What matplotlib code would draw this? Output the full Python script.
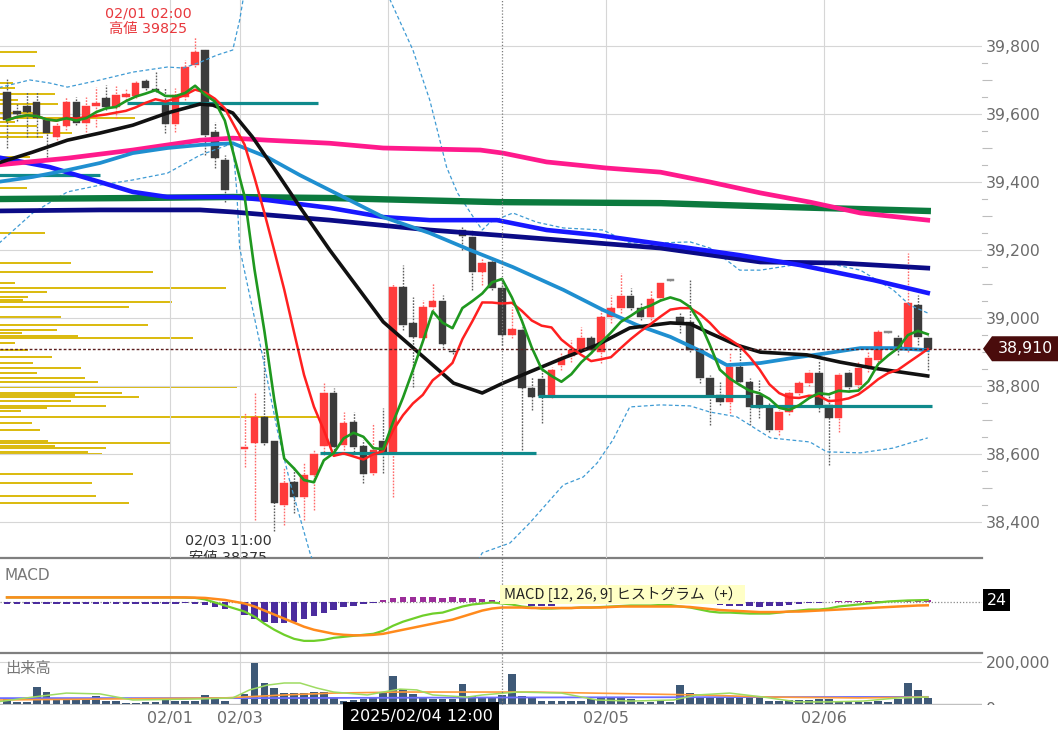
import numpy as np
import pandas as pd
import matplotlib
matplotlib.use("Agg")
import matplotlib.pyplot as plt
from matplotlib.patches import Polygon, Rectangle
from matplotlib.lines import Line2D
from matplotlib.transforms import Bbox, TransformedBbox, blended_transform_factory
from matplotlib.ticker import FixedLocator

plt.rcParams['font.family'] = ['DejaVu Sans', 'Noto Sans CJK JP']

nan = np.nan

# ---------------- hourly candles (index 23 = no trading) ----------------
opens = [39664, 39610, 39623, 39635, 39582, 39532, 39564, 39635, 39573, 39623,
         39647, 39620, 39650, 39653, 39697, 39673, 39635, 39570, 39650, 39744,
         39788, 39547, 39464, nan, 38615, 38633, 38709, 38639, 38451, 38519,
         38475, 38539, 38624, 38780, 38627, 38695, 38624, 38545, 38639, 38607,
         39091, 38986, 38942, 39033, 39050, 38903, 39259, 39238, 39135, 39165,
         39088, 38950, 38965, 38795, 38821, 38771, 38862, 38889, 38906, 38942,
         38900, 39003, 39030, 39065, 39030, 39003, 39059, 39112, 39003, 38989,
         38906, 38824, 38774, 38753, 38856, 38812, 38774, 38736, 38671, 38724,
         38780, 38809, 38839, 38745, 38707, 38839, 38803, 38853, 38877, 38959,
         38942, 38906, 39038, 38942]
highs = [39705, 39630, 39664, 39664, 39588, 39576, 39650, 39650, 39650, 39679,
         39685, 39682, 39676, 39697, 39705, 39723, 39676, 39676, 39758, 39825,
         39790, 39576, 39479, nan, 38724, 38783, 38906, 38639, 38563, 38563,
         38574, 38613, 38809, 38795, 38724, 38724, 38642, 38692, 38736, 39103,
         39156, 39062, 39053, 39103, 39068, 38909, 39271, 39259, 39177, 39177,
         39112, 39033, 38974, 38827, 38856, 38856, 38900, 38936, 38974, 38947,
         39024, 39068, 39132, 39088, 39047, 39083, 39103, 39115, 39015, 39112,
         38912, 38833, 38812, 38897, 38912, 38824, 38818, 38751, 38730, 38789,
         38818, 38848, 38877, 38780, 38839, 38848, 38871, 38900, 38965, 38962,
         38950, 39191, 39068, 38947]
lows = [39500, 39580, 39532, 39532, 39473, 39523, 39553, 39567, 39547, 39561,
        39611, 39588, 39641, 39647, 39670, 39664, 39544, 39547, 39641, 39738,
        39479, 39441, 39341, nan, 38563, 38407, 38627, 38375, 38392, 38428,
        38407, 38436, 38598, 38613, 38613, 38607, 38516, 38539, 38545, 38475,
        38965, 38798, 38936, 39024, 38912, 38895, 39200, 39083, 39097, 39083,
        38921, 38942, 38613, 38730, 38692, 38765, 38848, 38871, 38900, 38897,
        38868, 38986, 39015, 39024, 38994, 38994, 39053, 39109, 38956, 38900,
        38809, 38686, 38745, 38721, 38803, 38686, 38706, 38665, 38657, 38715,
        38774, 38800, 38724, 38568, 38665, 38783, 38795, 38842, 38871, 38956,
        38891, 38900, 38921, 38848]
closes = [39582, 39600, 39606, 39588, 39544, 39564, 39635, 39573, 39623, 39632,
          39620, 39655, 39658, 39691, 39676, 39670, 39570, 39655, 39738, 39782,
          39538, 39470, 39376, nan, 38621, 38709, 38633, 38457, 38516, 38475,
          38539, 38601, 38780, 38621, 38692, 38621, 38542, 38613, 38607, 39091,
          38980, 38945, 39033, 39050, 38924, 38900, 39241, 39135, 39162, 39088,
          38950, 38968, 38795, 38768, 38771, 38848, 38883, 38906, 38942, 38906,
          39003, 39030, 39065, 39030, 39003, 39056, 39103, 39112, 38986, 38906,
          38824, 38774, 38753, 38856, 38812, 38739, 38736, 38671, 38724, 38780,
          38809, 38839, 38745, 38707, 38833, 38797, 38853, 38883, 38959, 38959,
          38906, 39044, 38945, 38910]
volumes = [24000, 10000, 10000, 81000, 57000, 24000, 29000, 24000, 29000, 38000,
           14000, 14000, 5000, 5000, 10000, 10000, 24000, 14000, 14000, 14000,
           43000, 24000, 14000, nan, 48000, 195000, 100000, 76000, 52000, 52000,
           52000, 57000, 57000, 29000, 14000, 19000, 24000, 29000, 52000, 133000,
           71000, 48000, 29000, 24000, 24000, 24000, 95000, 38000, 33000, 33000,
           43000, 143000, 38000, 33000, 14000, 14000, 14000, 14000, 14000, 24000,
           29000, 29000, 29000, 24000, 10000, 10000, 14000, 10000, 90000, 52000,
           33000, 33000, 33000, 33000, 33000, 33000, 29000, 14000, 14000, 19000,
           19000, 19000, 24000, 24000, 14000, 10000, 10000, 10000, 14000, 10000,
           24000, 100000, 67000, 29000]

# ---------------- MACD (12, 26, 9) ----------------
macd_line = [50, 50, 50, 50, 50, 50, 50, 50, 50, 50,
             50, 50, 50, 50, 50, 50, 50, 50, 48, 45,
             30, 0, -30, nan, -90, -140, -210, -270, -320, -360,
             -380, -380, -370, -350, -340, -330, -320, -310, -280, -230,
             -190, -160, -130, -110, -100, -70, -40, -20, -10, 0,
             -10, -20, -40, -50, -60, -60, -55, -55, -50, -50,
             -45, -40, -35, -30, -30, -30, -25, -25, -40, -50,
             -70, -90, -100, -100, -105, -110, -110, -110, -100, -90,
             -80, -70, -70, -60, -40, -30, -20, -10, 0, 10,
             15, 20, 22, 24]
macd_signal = [50, 50, 50, 50, 50, 50, 50, 50, 50, 50,
               50, 50, 50, 50, 50, 50, 50, 50, 50, 48,
               45, 35, 25, nan, -10, -40, -80, -120, -160, -200,
               -240, -270, -290, -310, -320, -325, -325, -320, -310, -290,
               -270, -250, -230, -210, -190, -170, -140, -110, -80, -60,
               -50, -50, -50, -55, -55, -55, -55, -55, -50, -50,
               -50, -45, -40, -40, -40, -40, -40, -40, -40, -45,
               -55, -65, -75, -80, -85, -90, -95, -95, -95, -90,
               -90, -85, -80, -75, -70, -65, -60, -55, -50, -45,
               -40, -35, -30, -28]
macd_hist = [-12, -12, -12, -12, -12, -12, -12, -12, -12, -12,
             -12, -12, -12, -12, -12, -12, -12, -12, -10, -15,
             -25, -40, -60, nan, -120, -160, -190, -200, -200, -190,
             -160, -130, -100, -70, -40, -30, -20, -10, 20, 40,
             50, 50, 50, 50, 40, 50, 40, 40, 30, 20,
             10, -10, -20, -30, -30, -30, -20, -20, -10, -10,
             -5, 5, 5, 10, 10, 10, 10, 10, 5, -5,
             -10, -20, -25, -30, -30, -35, -40, -35, -30, -25,
             -15, -10, -5, 0, 10, 10, 12, 15, 15, 15,
             15, 20, 20, 20]

# ---------------- longer moving averages / bands (read at candle positions) ----
black_x = [-1, 2.6, 6.1, 9.4, 12.7, 16.2, 19.5, 20.8, 22.8, 24.8, 27.3, 29.6, 32.6, 38,
           45.1, 48, 50.1, 52.8, 56.2, 59.6, 62.9, 67, 69, 71, 73.7, 76.1, 80.8, 84.1, 87.5, 93]
black_ma = [39455, 39488, 39523, 39544, 39567, 39603, 39629, 39626, 39603, 39532, 39426,
            39326, 39200, 38989, 38809, 38780, 38809, 38842, 38883, 38921, 38971, 38986,
            38983, 38956, 38921, 38900, 38892, 38871, 38853, 38830]
cyan_x = [-1, 2.6, 6.1, 9.4, 12.7, 16.2, 19.5, 22.8, 26.3, 29.6, 32.6, 38, 42.7, 46.8,
          51.1, 56.2, 60.2, 63.6, 67, 70.3, 72.7, 76.1, 79.4, 82.8, 86.2, 89.5, 93]
cyan_ma = [39400, 39415, 39435, 39456, 39485, 39500, 39509, 39514, 39473, 39420, 39376,
           39297, 39250, 39200, 39150, 39083, 39024, 38980, 38945, 38900, 38862, 38868,
           38883, 38897, 38912, 38912, 38906]
pink_x = [-1, 6.1, 12.7, 19.5, 22.8, 26.3, 32.6, 38, 42.7, 47.8, 50.1, 54.5, 60.6, 66,
          71, 76.1, 81.1, 86.2, 93]
pink_ma = [39450, 39470, 39494, 39523, 39529, 39523, 39514, 39500, 39497, 39494, 39485,
           39459, 39441, 39429, 39400, 39368, 39341, 39309, 39288]
dgreen_x = [-1, 12.7, 22.8, 32.6, 49.5, 66, 79.4, 93]
dgreen_ma = [39350, 39353, 39356, 39353, 39341, 39338, 39326, 39315]
blue_x = [-1, 4.3, 9.4, 12.7, 16.2, 22.8, 26.3, 32.6, 38, 42.7, 49.5, 54.5, 59.6, 66,
          74, 80.1, 87.5, 93]
blue_ma = [39473, 39444, 39400, 39371, 39356, 39356, 39347, 39324, 39297, 39288, 39288,
           39259, 39244, 39218, 39185, 39156, 39112, 39074]
navy_x = [-1, 9.4, 19.5, 22.8, 32.6, 42.7, 49.5, 66, 76.1, 84.1, 93]
navy_ma = [39315, 39318, 39318, 39312, 39288, 39259, 39244, 39206, 39165, 39162, 39147]

bb_upper_x = [-1, 2.3, 4.3, 6.1, 9.4, 12.7, 16.2, 17.8, 19.5, 21.2, 22.8, 23.5, 24.5, 27,
              31, 35, 37.5, 38.7, 41, 42.7, 44.4, 45.5, 47.1, 48, 48.8, 51.1, 53.5, 56.2,
              60.2, 62.9, 66, 69, 71, 72.3, 74, 76.1, 79.4, 82.8, 86.2, 89.5, 91.2, 93]
bb_upper = [39676, 39700, 39691, 39679, 39700, 39723, 39738, 39735, 39752, 39773, 39788,
            39876, 40050, 40250, 40350, 40200, 40000, 39935, 39788, 39641, 39444, 39368,
            39297, 39259, 39282, 39309, 39282, 39265, 39259, 39221, 39221, 39224, 39206,
            39179, 39141, 39141, 39156, 39162, 39141, 39083, 39038, 39015]
bb_lower_x = [-1, 2.6, 6.1, 9.4, 12.7, 16.2, 19.5, 22.8, 23.2, 23.5, 25.9, 27.3, 28.6,
              30.6, 33, 37, 41, 45, 48, 50.8, 52.8, 56.2, 58.2, 59.6, 61.2, 62.9, 66, 69,
              71, 73.7, 77.1, 81.1, 82.8, 86.2, 89.5, 91.2, 93]
bb_lower = [39215, 39309, 39371, 39391, 39406, 39426, 39479, 39514, 39376, 39206, 38877,
            38671, 38516, 38310, 38120, 38000, 38020, 38150, 38310, 38339, 38398, 38510,
            38533, 38574, 38642, 38739, 38745, 38742, 38724, 38710, 38648, 38636, 38607,
            38604, 38618, 38633, 38648]

# horizontal support / resistance lines
teal_levels = [39632, 39420, 38604, 38771, 38742]
teal_from = [12.1, -1, 31.6, 53.6, 75.0]
teal_to = [31.4, 9.4, 53.4, 75.0, 93.4]

# price-by-volume profile
profile_levels = [39782, 39741, 39691, 39676, 39658, 39641, 39629, 39603, 39588, 39576,
                  39564, 39544, 39532, 39473, 39382, 39250, 39162, 39135, 39103, 39088,
                  39077, 39062, 39053, 39047, 39033, 39003, 38980, 38965, 38956, 38947,
                  38942, 38927, 38906, 38886, 38868, 38853, 38839, 38824, 38812, 38797,
                  38780, 38774, 38768, 38756, 38742, 38736, 38727, 38709, 38692, 38671,
                  38639, 38633, 38624, 38618, 38607, 38601, 38542, 38516, 38477, 38457]
profile_volumes = [37, 35, 13, 15, 55, 18, 58, 37, 135, 15,
                   37, 72, 43, 30, 27, 45, 71, 153, 15, 226,
                   47, 28, 23, 172, 129, 61, 148, 57, 22, 78,
                   193, 15, 28, 52, 33, 81, 37, 85, 98, 237,
                   122, 75, 139, 71, 106, 47, 21, 318, 32, 40,
                   48, 170, 55, 106, 88, 102, 133, 92, 96, 129]

# volume moving averages
volma_fast_x = [-1, 2.6, 6, 9.4, 12.7, 19.5, 22.8, 24.5, 26.3, 28, 29.6, 31.3, 33, 36.4,
                38, 39.7, 41.4, 43, 46.5, 48, 51.5, 56, 59.6, 63, 67.3, 69.7, 73, 76.4,
                79.8, 83, 86.5, 90, 93]
volma_fast = [10000, 33000, 52000, 48000, 19000, 24000, 29000, 67000, 90000, 100000,
              100000, 76000, 57000, 43000, 57000, 71000, 67000, 43000, 33000, 43000,
              57000, 52000, 19000, 14000, 19000, 43000, 52000, 33000, 10000, 10000,
              14000, 29000, 33000]
volma_mid_x = [-1, 22, 28, 33, 40, 53, 70, 77, 86, 93]
volma_mid = [19000, 29000, 43000, 52000, 57000, 57000, 43000, 33000, 29000, 33000]
volma_slow_x = [-1, 25, 50, 93]
volma_slow = [28000, 28000, 31000, 34000]

day_ticks = [16.5, 23.5, 38.5, 60.5, 82.5]
day_labels = ["02/01", "02/03", "", "02/05", "02/06"]   # 02/04 sits under the cursor label
price_ticks = [38400, 38600, 38800, 39000, 39200, 39400, 39600, 39800]
high_time = "02/01 02:00"
low_time = "02/03 11:00"
cursor_index = 50
cursor_label = "2025/02/04 12:00"

# ---------------- figure ----------------
W, H = 1064, 741
fig = plt.figure(figsize=(W / 100, H / 100), dpi=100)
fig.patch.set_facecolor('white')


def rect(x0, y0, x1, y1):
    return [x0 / W, 1 - y1 / H, (x1 - x0) / W, (y1 - y0) / H]


ax = fig.add_axes(rect(0, 0, 982, 558))
axm = fig.add_axes(rect(0, 558, 982, 653), sharex=ax)
axv = fig.add_axes(rect(0, 653, 982, 705), sharex=ax)

GRID = '#d6d6d6'
LBL = '#6b6b6b'

o = np.array(opens, float)
hi = np.array(highs, float)
lo = np.array(lows, float)
cl = np.array(closes, float)
vol = np.array(volumes, float)
idx = np.arange(len(cl))
ok = ~np.isnan(cl)

YMIN, YMAX = 38295, 39935
XMIN, XMAX = -0.707, 98.48

# volume profile on a twin x scale (1 unit = 1 px of width)
axp = ax.twiny()
axp.barh(profile_levels, profile_volumes, height=5, left=0, color='#dbbb12', linewidth=0)
axp.set_xlim(0, 982)
axp.axis('off')
ax.set_zorder(axp.get_zorder() + 1)
ax.patch.set_visible(False)

# candles
up = cl > o
down = cl < o
body_col = np.where(up, '#ff3b3b', np.where(down, '#3b3b3b', '#8a8a8a'))
wick_col = np.where(up, '#ff6a6a', np.where(down, '#5e5e5e', '#9a9a9a'))
body_h = np.abs(cl - o)
body_draw = np.maximum(body_h, 5)
body_bot = np.minimum(o, cl) - (body_draw - body_h) / 2
ax.vlines(idx[ok], lo[ok], hi[ok], colors=wick_col[ok], linewidth=1.0,
          linestyles=(0, (1.2, 1.0)), zorder=3)
ax.bar(idx[ok], body_draw[ok], bottom=body_bot[ok], width=0.76, color=body_col[ok],
       edgecolor=body_col[ok], linewidth=0.3, zorder=3.2)

# bands and averages
ax.plot(bb_upper_x, bb_upper, color='#3f9bd4', lw=0.9, ls=(0, (3, 2)), zorder=3.5)
ax.plot(bb_lower_x, bb_lower, color='#3f9bd4', lw=0.9, ls=(0, (3, 2)), zorder=3.5)
for lev, x0, x1 in zip(teal_levels, teal_from, teal_to):
    ax.plot([x0, x1], [lev, lev], color='#0f8a8c', lw=2.3, solid_capstyle='butt', zorder=4)
ax.plot(dgreen_x, dgreen_ma, color='#0b7a3e', lw=4.6, zorder=4.1)
ax.plot(navy_x, navy_ma, color='#0b0b86', lw=3.4, zorder=4.2)
ax.plot(blue_x, blue_ma, color='#1818ff', lw=3.3, zorder=4.3)
ax.plot(pink_x, pink_ma, color='#ff1a8c', lw=3.4, zorder=4.4)
ax.plot(cyan_x, cyan_ma, color='#1f8fd0', lw=2.7, zorder=4.5)
ax.plot(black_x, black_ma, color='#111111', lw=2.6, zorder=4.6)

s = pd.Series(cl[ok], index=idx[ok])
sma5 = s.rolling(5, min_periods=1).mean()
sma10 = s.rolling(10, min_periods=1).mean()
ax.plot(sma10.index, sma10.values, color='#ff2020', lw=1.8, zorder=4.8)
ax.plot(sma5.index, sma5.values, color='#1f981f', lw=1.9, zorder=4.9)

last = cl[ok][-1]
ax.axhline(last, color='#5c1f1f', ls=(0, (2, 1.5)), lw=1.0, zorder=6)

# high / low annotations
hi_i = int(np.nanargmax(hi))
lo_i = int(np.nanargmin(lo))
ax.annotate(f"{high_time}\n高値 {hi[hi_i]:.0f}", xy=(hi_i, hi[hi_i]), xytext=(-47, 1),
            textcoords='offset pixels', ha='center', va='bottom', color='#e8383d',
            fontsize=10.3, linespacing=1.15, zorder=7)
ax.annotate(f"{low_time}\n安値 {lo[lo_i]:.0f}", xy=(lo_i, lo[lo_i]), xytext=(-46, -3),
            textcoords='offset pixels', ha='center', va='top', color='#333333',
            fontsize=10.3, linespacing=1.3, zorder=7, clip_on=True)

# axes formatting (main)
ax.set_xlim(XMIN, XMAX)
ax.set_ylim(YMIN, YMAX)
ax.set_xticks(day_ticks)
ax.yaxis.tick_right()
ax.set_yticks(price_ticks)
ax.set_yticklabels([f"{v:,}" for v in price_ticks])
ax.yaxis.set_minor_locator(FixedLocator([v for v in range(38500, 39751, 100) if v % 200 != 0]))
ax.tick_params(axis='y', which='major', length=0, pad=3, labelsize=11.3, labelcolor=LBL)
ax.tick_params(axis='y', which='minor', length=7.2, width=0.8, color='#bdbdbd', direction='out')
ax.tick_params(axis='x', length=0, labelbottom=False)
ax.grid(True, which='major', color=GRID, lw=0.8)
ax.set_axisbelow(True)
for sp in ax.spines.values():
    sp.set_visible(False)
# short half-level ticks
trm = blended_transform_factory(ax.transAxes, ax.transData)
for v in range(38450, 39751, 100):
    ax.add_artist(Line2D([1.0, 1.0 + 5 / 982], [v, v], transform=trm, color='#bdbdbd',
                         lw=0.8, clip_on=False))

# current price tag
ppx = (YMAX - YMIN) / 558.0
dy = 12.5 * ppx
tag = Polygon([[983 / 982, last], [992 / 982, last + dy], [1058 / 982, last + dy],
               [1058 / 982, last - dy], [992 / 982, last - dy]], closed=True,
              transform=trm, facecolor='#4a0c0c', edgecolor='none', clip_on=False, zorder=10)
ax.add_artist(tag)
ax.text(1025 / 982, last, f"{last:,.0f}", transform=trm, color='white', fontsize=11.3,
        ha='center', va='center', zorder=11, clip_on=False)

# ---------------- MACD panel ----------------
mh = np.array(macd_hist, float)
mok = ~np.isnan(mh)
axm.bar(idx[mok], mh[mok], width=0.66,
        color=np.where(mh[mok] >= 0, '#9b2d99', '#4b2c9e'), zorder=2)
ml = np.array(macd_line, float)
ms = np.array(macd_signal, float)
axm.plot(idx[mok], ml[mok], color='#6fcf2a', lw=1.6, zorder=3)
axm.plot(idx[mok], ms[mok], color='#ff8a1c', lw=1.8, zorder=3.1)
axm.axhline(0, color='#8a8a8a', ls=(0, (1, 1.5)), lw=0.9, zorder=1.5)
axm.set_ylim(-500, 440)
axm.set_yticks([])
axm.tick_params(axis='x', length=0, labelbottom=False)
axm.grid(True, axis='x', color=GRID, lw=0.8)
axm.set_axisbelow(True)
for k, sp in axm.spines.items():
    sp.set_visible(k == 'top')
axm.spines['top'].set_color('#7f7f7f')
axm.spines['top'].set_linewidth(1.6)
trmm = blended_transform_factory(axm.transAxes, axm.transData)
mlast = ml[mok][-1]
axm.add_artist(Rectangle((983 / 982, mlast - 110), 27 / 982, 220, transform=trmm,
                         facecolor='black', edgecolor='none', clip_on=False, zorder=10))
axm.text(996.5 / 982, mlast, f"{mlast:.0f}", transform=trmm, color='white', fontsize=11.3,
         ha='center', va='center', clip_on=False, zorder=11)

# ---------------- volume panel ----------------
axv.bar(idx[ok], vol[ok], width=0.78, color='#3e5977', zorder=2)
axv.plot(volma_slow_x, volma_slow, color='#6c6cff', lw=1.3, zorder=3)
axv.plot(volma_mid_x, volma_mid, color='#ff9a3a', lw=1.2, zorder=3)
axv.plot(volma_fast_x, volma_fast, color='#9edb62', lw=1.1, zorder=3)
axv.axhline(0, color='#c0c0c0', lw=1.0, zorder=1)
axv.set_ylim(-4762, 242857)
axv.yaxis.tick_right()
axv.set_yticks([200000])
axv.set_yticklabels(["200,000"])
axv.tick_params(axis='y', length=0, pad=3, labelsize=11.3, labelcolor=LBL)
axv.set_xticks(day_ticks)
axv.set_xticklabels(day_labels)
axv.tick_params(axis='x', length=0, pad=4, labelsize=11.5, labelcolor=LBL)
axv.grid(True, color=GRID, lw=0.8)
axv.set_axisbelow(True)
for k, sp in axv.spines.items():
    sp.set_visible(k == 'top')
axv.spines['top'].set_color('#7f7f7f')
axv.spines['top'].set_linewidth(1.6)

# "0" label, half hidden below the panel edge as in the source
zero_txt = fig.text(986 / W, 1 - 709 / H, "0", color=LBL, fontsize=11.3, ha='left', va='center')
zero_txt.set_clip_box(TransformedBbox(Bbox.from_extents(0.9, 1 - 705 / H, 1.0, 1 - 655 / H),
                                      fig.transFigure))
zero_txt.set_clip_on(True)

# cursor line across panels
for a in (ax, axm, axv):
    a.axvline(cursor_index, color='#7a7a7a', ls=(0, (1, 1.5)), lw=0.9, zorder=6)

# panel titles
fig.text(5 / W, 1 - 576 / H, "MACD", color='#777777', fontsize=11, va='center', ha='left')
fig.text(5 / W, 1 - 668 / H, "出来高", color='#777777', fontsize=11, va='center', ha='left',
         family=['Noto Sans CJK JP', 'DejaVu Sans'])

# tooltip
fig.add_artist(Rectangle((500 / W, 1 - 604 / H), 245 / W, 19 / H, transform=fig.transFigure,
                         facecolor='#ffffc6', edgecolor='none', zorder=20))
fig.text(504 / W, 1 - 594.5 / H, "MACD [12, 26, 9] ヒストグラム（+）", color='#222222',
         fontsize=10.6, va='center', ha='left', zorder=21,
         family=['Noto Sans CJK JP', 'DejaVu Sans'])

# cursor time label
fig.text(421 / W, 1 - 716 / H, cursor_label, color='white', fontsize=11.5, ha='center',
         va='center', zorder=22,
         bbox=dict(boxstyle='square,pad=0.38', facecolor='black', edgecolor='none'))

fig.savefig("out.png", dpi=100, facecolor='white')
